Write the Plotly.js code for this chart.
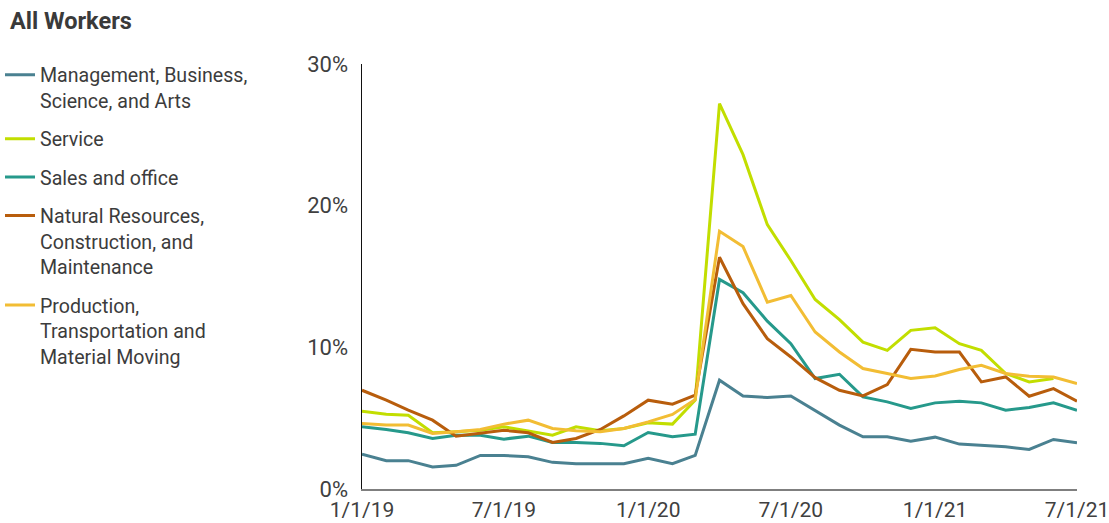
<!DOCTYPE html>
<html>
<head>
<meta charset="utf-8">
<script src="https://cdn.plot.ly/plotly-3.0.1.min.js"></script>
<style>html,body{margin:0;padding:0;background:#fff;} #chart{width:1109px;height:523px;}</style>
</head>
<body>
<div id="chart"></div>
<script>
const months = [
  "2019-01-01","2019-02-01","2019-03-01","2019-04-01","2019-05-01","2019-06-01",
  "2019-07-01","2019-08-01","2019-09-01","2019-10-01","2019-11-01","2019-12-01",
  "2020-01-01","2020-02-01","2020-03-01","2020-04-01","2020-05-01","2020-06-01",
  "2020-07-01","2020-08-01","2020-09-01","2020-10-01","2020-11-01","2020-12-01",
  "2021-01-01","2021-02-01","2021-03-01","2021-04-01","2021-05-01","2021-06-01",
  "2021-07-01"
];
const management = [2.46,2.0,2.0,1.55,1.67,2.37,2.37,2.28,1.88,1.79,1.79,1.79,2.16,1.79,2.37,
  7.68,6.57,6.46,6.57,5.52,4.51,3.69,3.69,3.38,3.66,3.17,3.08,2.98,2.79,3.5,3.26];
const service = [5.49,5.28,5.21,3.97,4.04,4.15,4.39,4.11,3.80,4.39,4.11,4.27,4.67,4.58,6.27,
  27.2,23.6,18.66,16.13,13.38,11.95,10.37,9.79,11.2,11.38,10.26,9.79,8.15,7.56,7.8,null];
const sales = [4.39,4.2,3.97,3.57,3.80,3.80,3.52,3.73,3.29,3.29,3.22,3.05,3.99,3.69,3.87,
  14.79,13.85,11.85,10.26,7.8,8.1,6.5,6.15,5.68,6.08,6.2,6.08,5.56,5.75,6.08,5.56];
const natural = [6.97,6.27,5.56,4.86,3.73,3.97,4.15,3.97,3.29,3.57,4.2,5.16,6.27,5.99,6.62,
  16.36,13.08,10.61,9.32,7.86,6.97,6.57,7.37,9.86,9.67,9.67,7.56,7.91,6.55,7.09,6.2];
const production = [4.62,4.51,4.51,3.92,4.04,4.2,4.58,4.86,4.27,4.11,4.04,4.27,4.74,5.26,6.32,
  18.19,17.11,13.19,13.66,11.08,9.67,8.5,8.15,7.8,7.98,8.43,8.73,8.15,7.96,7.91,7.44];

const seriesNames = [
  "Management, Business,<br>Science, and Arts",
  "Service",
  "Sales and office",
  "Natural Resources,<br>Construction, and<br>Maintenance",
  "Production,<br>Transportation and<br>Material Moving"
];
const seriesValues = [management, service, sales, natural, production];
const seriesColors = ["#4a8191","#c2de00","#26998b","#b85d0c","#f2bd34"];

const tickDates = ["2019-01-01","2019-07-01","2020-01-01","2020-07-01","2021-01-01","2021-07-01"];
const tickLabels = ["1/1/19","7/1/19","1/1/20","7/1/20","1/1/21","7/1/21"];
const yTicks = [0,10,20,30];
const yTickLabels = ["0%","10%","20%","30%"];

const traces = seriesValues.map((vals, i) => ({
  x: months, y: vals, type: "scatter", mode: "lines",
  name: seriesNames[i], legendgroup: "g" + i,
  line: {color: seriesColors[i], width: 3},
  connectgaps: false
}));

const layout = {
  width: 1109, height: 523,
  margin: {l: 362, r: 32, t: 64, b: 34},
  paper_bgcolor: "#fff", plot_bgcolor: "#fff",
  font: {family: "Roboto, sans-serif", color: "#404040"},
  title: {text: "<b>All Workers</b>", x: 0.009, xref: "container", y: 0.96, yref: "container",
          xanchor: "left", yanchor: "middle", font: {size: 23.5, color: "#3a3a3a", family: "Roboto, sans-serif"}},
  showlegend: true,
  legend: {xref: "container", yref: "container", x: 0.0, y: 0.894, xanchor: "left", yanchor: "top",
           font: {size: 19.6, color: "#3c3c3c"}, tracegroupgap: 10, valign: "top",
           maxheight: 480, bgcolor: "rgba(0,0,0,0)"},
  xaxis: {type: "date", range: ["2019-01-01","2021-07-01"], tickvals: tickDates, ticktext: tickLabels,
          showgrid: false, zeroline: false, showline: true, linecolor: "#7f7f7f", linewidth: 1.5,
          ticks: "", tickfont: {size: 21, color: "#404040"}, ticklabelstandoff: 1,
          ticklabeloverflow: "allow", fixedrange: true},
  yaxis: {range: [0, 30], tickvals: yTicks, ticktext: yTickLabels, showgrid: false, zeroline: false,
          showline: true, linecolor: "#111", linewidth: 1.5, ticks: "", ticklabelstandoff: 8,
          tickfont: {size: 22, color: "#404040"}, fixedrange: true}
};

Plotly.newPlot("chart", traces, layout, {displayModeBar: false, staticPlot: true});
</script>
</body>
</html>
